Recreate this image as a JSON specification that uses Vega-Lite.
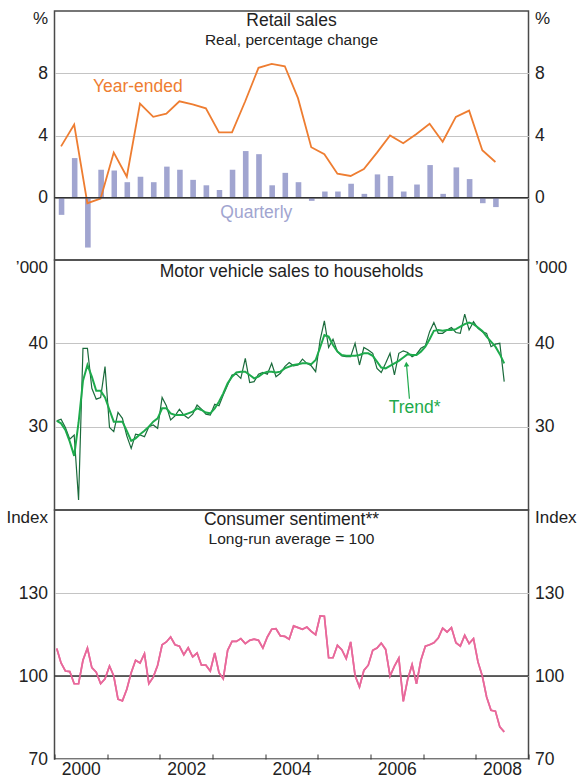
{
  "$schema": "https://vega.github.io/schema/vega-lite/v6.json",
  "padding": {"left": 4.5, "top": 8, "right": 0, "bottom": 0},
  "spacing": 0,
  "bounds": "flush",
  "config": {
    "font": "Liberation Sans",
    "view": {"stroke": "#4a4a4a", "strokeWidth": 1.5},
    "axis": {"labelFont": "Liberation Sans", "labelFontSize": 17.5, "labelColor": "#222222", "domain": false, "ticks": false, "grid": false, "titleFont": "Liberation Sans", "titleFontSize": 17, "titleFontWeight": "normal", "titleColor": "#222222"},
    "title": {"font": "Liberation Sans", "fontSize": 17.5, "fontWeight": "normal", "color": "#222222", "subtitleFont": "Liberation Sans", "subtitleFontSize": 15.5, "subtitleColor": "#222222", "anchor": "middle", "offset": -39, "subtitlePadding": 0}
  },
  "datasets": {
    "retail": [
      {"quarter": "2000-01", "quarterly": -1.1, "yearEnded": 3.3},
      {"quarter": "2000-04", "quarterly": 2.55, "yearEnded": 4.7},
      {"quarter": "2000-07", "quarterly": -3.2, "yearEnded": -0.35},
      {"quarter": "2000-10", "quarterly": 1.8, "yearEnded": -0.05},
      {"quarter": "2001-01", "quarterly": 1.75, "yearEnded": 2.9},
      {"quarter": "2001-04", "quarterly": 1.0, "yearEnded": 1.35},
      {"quarter": "2001-07", "quarterly": 1.35, "yearEnded": 6.05},
      {"quarter": "2001-10", "quarterly": 1.0, "yearEnded": 5.2},
      {"quarter": "2002-01", "quarterly": 2.0, "yearEnded": 5.4},
      {"quarter": "2002-04", "quarterly": 1.8, "yearEnded": 6.2},
      {"quarter": "2002-07", "quarterly": 1.15, "yearEnded": 6.0},
      {"quarter": "2002-10", "quarterly": 0.8, "yearEnded": 5.75},
      {"quarter": "2003-01", "quarterly": 0.5, "yearEnded": 4.2},
      {"quarter": "2003-04", "quarterly": 1.8, "yearEnded": 4.2},
      {"quarter": "2003-07", "quarterly": 3.0, "yearEnded": 6.2},
      {"quarter": "2003-10", "quarterly": 2.8, "yearEnded": 8.35},
      {"quarter": "2004-01", "quarterly": 0.8, "yearEnded": 8.6},
      {"quarter": "2004-04", "quarterly": 1.6, "yearEnded": 8.45},
      {"quarter": "2004-07", "quarterly": 1.0, "yearEnded": 6.4},
      {"quarter": "2004-10", "quarterly": -0.2, "yearEnded": 3.25},
      {"quarter": "2005-01", "quarterly": 0.4, "yearEnded": 2.8},
      {"quarter": "2005-04", "quarterly": 0.4, "yearEnded": 1.55},
      {"quarter": "2005-07", "quarterly": 0.9, "yearEnded": 1.4},
      {"quarter": "2005-10", "quarterly": 0.25, "yearEnded": 1.85},
      {"quarter": "2006-01", "quarterly": 1.5, "yearEnded": 2.9},
      {"quarter": "2006-04", "quarterly": 1.4, "yearEnded": 4.0},
      {"quarter": "2006-07", "quarterly": 0.4, "yearEnded": 3.5},
      {"quarter": "2006-10", "quarterly": 0.85, "yearEnded": 4.1},
      {"quarter": "2007-01", "quarterly": 2.1, "yearEnded": 4.75},
      {"quarter": "2007-04", "quarterly": 0.25, "yearEnded": 3.6},
      {"quarter": "2007-07", "quarterly": 1.95, "yearEnded": 5.2},
      {"quarter": "2007-10", "quarterly": 1.2, "yearEnded": 5.6},
      {"quarter": "2008-01", "quarterly": -0.35, "yearEnded": 3.05},
      {"quarter": "2008-04", "quarterly": -0.6, "yearEnded": 2.3}
    ],
    "motor": [
      {"month": "2000-01", "actual": 30.7, "trend": 30.7},
      {"month": "2000-02", "actual": 30.9, "trend": 30.4},
      {"month": "2000-03", "actual": 29.9, "trend": 29.6},
      {"month": "2000-04", "actual": 28.5, "trend": 28.2},
      {"month": "2000-05", "actual": 29.0, "trend": 26.5},
      {"month": "2000-06", "actual": 21.2, "trend": 30.5},
      {"month": "2000-07", "actual": 39.4, "trend": 35.5},
      {"month": "2000-08", "actual": 39.4, "trend": 37.4},
      {"month": "2000-09", "actual": 34.6, "trend": 36.0},
      {"month": "2000-10", "actual": 33.3, "trend": 34.3},
      {"month": "2000-11", "actual": 33.5, "trend": 34.3},
      {"month": "2000-12", "actual": 37.2, "trend": 33.5},
      {"month": "2001-01", "actual": 29.9, "trend": 32.0},
      {"month": "2001-02", "actual": 29.4, "trend": 30.6},
      {"month": "2001-03", "actual": 31.7, "trend": 30.6},
      {"month": "2001-04", "actual": 31.0, "trend": 30.6},
      {"month": "2001-05", "actual": 28.9, "trend": 29.5},
      {"month": "2001-06", "actual": 27.4, "trend": 28.3},
      {"month": "2001-07", "actual": 29.1, "trend": 28.6},
      {"month": "2001-08", "actual": 29.0, "trend": 29.1},
      {"month": "2001-09", "actual": 28.8, "trend": 29.5},
      {"month": "2001-10", "actual": 30.0, "trend": 30.0},
      {"month": "2001-11", "actual": 30.2, "trend": 30.6},
      {"month": "2001-12", "actual": 29.8, "trend": 31.0},
      {"month": "2002-01", "actual": 33.5, "trend": 32.2},
      {"month": "2002-02", "actual": 32.5, "trend": 32.2},
      {"month": "2002-03", "actual": 30.8, "trend": 31.6},
      {"month": "2002-04", "actual": 31.3, "trend": 31.4},
      {"month": "2002-05", "actual": 32.1, "trend": 31.4},
      {"month": "2002-06", "actual": 31.4, "trend": 31.4},
      {"month": "2002-07", "actual": 31.0, "trend": 31.6},
      {"month": "2002-08", "actual": 31.5, "trend": 31.8},
      {"month": "2002-09", "actual": 32.6, "trend": 32.2},
      {"month": "2002-10", "actual": 32.1, "trend": 32.0},
      {"month": "2002-11", "actual": 31.5, "trend": 31.7},
      {"month": "2002-12", "actual": 31.4, "trend": 31.6},
      {"month": "2003-01", "actual": 32.7, "trend": 32.2},
      {"month": "2003-02", "actual": 32.5, "trend": 33.0},
      {"month": "2003-03", "actual": 33.8, "trend": 34.0},
      {"month": "2003-04", "actual": 35.0, "trend": 35.2},
      {"month": "2003-05", "actual": 36.2, "trend": 36.0},
      {"month": "2003-06", "actual": 36.3, "trend": 36.5},
      {"month": "2003-07", "actual": 35.8, "trend": 36.6},
      {"month": "2003-08", "actual": 38.2, "trend": 36.6},
      {"month": "2003-09", "actual": 35.3, "trend": 36.2},
      {"month": "2003-10", "actual": 35.4, "trend": 35.8},
      {"month": "2003-11", "actual": 36.3, "trend": 36.0},
      {"month": "2003-12", "actual": 36.5, "trend": 36.4},
      {"month": "2004-01", "actual": 36.3, "trend": 36.6},
      {"month": "2004-02", "actual": 37.6, "trend": 36.6},
      {"month": "2004-03", "actual": 36.0, "trend": 36.5},
      {"month": "2004-04", "actual": 36.4, "trend": 36.6},
      {"month": "2004-05", "actual": 37.2, "trend": 37.0},
      {"month": "2004-06", "actual": 37.7, "trend": 37.2},
      {"month": "2004-07", "actual": 37.3, "trend": 37.4},
      {"month": "2004-08", "actual": 37.4, "trend": 37.5},
      {"month": "2004-09", "actual": 38.1, "trend": 37.6},
      {"month": "2004-10", "actual": 37.6, "trend": 37.6},
      {"month": "2004-11", "actual": 37.3, "trend": 37.5},
      {"month": "2004-12", "actual": 36.6, "trend": 38.0},
      {"month": "2005-01", "actual": 40.4, "trend": 39.5},
      {"month": "2005-02", "actual": 42.7, "trend": 41.0},
      {"month": "2005-03", "actual": 39.5, "trend": 40.8},
      {"month": "2005-04", "actual": 40.5, "trend": 39.8},
      {"month": "2005-05", "actual": 39.0, "trend": 39.0},
      {"month": "2005-06", "actual": 38.5, "trend": 38.6},
      {"month": "2005-07", "actual": 38.4, "trend": 38.5},
      {"month": "2005-08", "actual": 38.4, "trend": 38.5},
      {"month": "2005-09", "actual": 40.0, "trend": 38.5},
      {"month": "2005-10", "actual": 37.4, "trend": 38.6},
      {"month": "2005-11", "actual": 39.5, "trend": 38.8},
      {"month": "2005-12", "actual": 39.2, "trend": 38.8},
      {"month": "2006-01", "actual": 38.8, "trend": 38.5},
      {"month": "2006-02", "actual": 37.0, "trend": 37.8},
      {"month": "2006-03", "actual": 36.5, "trend": 37.1},
      {"month": "2006-04", "actual": 37.6, "trend": 37.0},
      {"month": "2006-05", "actual": 38.8, "trend": 37.3},
      {"month": "2006-06", "actual": 36.2, "trend": 37.6},
      {"month": "2006-07", "actual": 38.8, "trend": 37.9},
      {"month": "2006-08", "actual": 39.1, "trend": 38.3},
      {"month": "2006-09", "actual": 38.9, "trend": 38.7},
      {"month": "2006-10", "actual": 38.4, "trend": 38.6},
      {"month": "2006-11", "actual": 38.7, "trend": 38.6},
      {"month": "2006-12", "actual": 39.4, "trend": 39.0},
      {"month": "2007-01", "actual": 39.7, "trend": 39.6},
      {"month": "2007-02", "actual": 41.4, "trend": 40.5},
      {"month": "2007-03", "actual": 42.5, "trend": 41.5},
      {"month": "2007-04", "actual": 41.2, "trend": 41.6},
      {"month": "2007-05", "actual": 41.2, "trend": 41.5},
      {"month": "2007-06", "actual": 41.6, "trend": 41.6},
      {"month": "2007-07", "actual": 41.9, "trend": 41.6},
      {"month": "2007-08", "actual": 41.3, "trend": 41.7},
      {"month": "2007-09", "actual": 41.2, "trend": 42.0},
      {"month": "2007-10", "actual": 43.5, "trend": 42.3},
      {"month": "2007-11", "actual": 41.6, "trend": 42.5},
      {"month": "2007-12", "actual": 42.6, "trend": 42.3},
      {"month": "2008-01", "actual": 41.8, "trend": 41.9},
      {"month": "2008-02", "actual": 41.4, "trend": 41.5},
      {"month": "2008-03", "actual": 41.2, "trend": 40.8},
      {"month": "2008-04", "actual": 39.6, "trend": 40.2},
      {"month": "2008-05", "actual": 39.9, "trend": 39.6},
      {"month": "2008-06", "actual": 40.0, "trend": 38.7},
      {"month": "2008-07", "actual": 35.4, "trend": 37.6}
    ],
    "sentiment": [
      {"month": "2000-01", "index": 109.9}, {"month": "2000-02", "index": 104.7}, {"month": "2000-03", "index": 101.8}, {"month": "2000-04", "index": 101.6},
      {"month": "2000-05", "index": 97.2}, {"month": "2000-06", "index": 97.2}, {"month": "2000-07", "index": 105.7}, {"month": "2000-08", "index": 110.1},
      {"month": "2000-09", "index": 103.0}, {"month": "2000-10", "index": 101.4}, {"month": "2000-11", "index": 97.2}, {"month": "2000-12", "index": 99.0},
      {"month": "2001-01", "index": 103.6}, {"month": "2001-02", "index": 100.0}, {"month": "2001-03", "index": 91.6}, {"month": "2001-04", "index": 91.0},
      {"month": "2001-05", "index": 95.2}, {"month": "2001-06", "index": 101.2}, {"month": "2001-07", "index": 105.7}, {"month": "2001-08", "index": 104.7},
      {"month": "2001-09", "index": 108.1}, {"month": "2001-10", "index": 97.2}, {"month": "2001-11", "index": 99.6}, {"month": "2001-12", "index": 103.9},
      {"month": "2002-01", "index": 111.3}, {"month": "2002-02", "index": 112.3}, {"month": "2002-03", "index": 114.1}, {"month": "2002-04", "index": 111.3},
      {"month": "2002-05", "index": 110.8}, {"month": "2002-06", "index": 107.7}, {"month": "2002-07", "index": 110.2}, {"month": "2002-08", "index": 106.9},
      {"month": "2002-09", "index": 108.3}, {"month": "2002-10", "index": 103.9}, {"month": "2002-11", "index": 103.9}, {"month": "2002-12", "index": 101.8},
      {"month": "2003-01", "index": 108.3}, {"month": "2003-02", "index": 101.2}, {"month": "2003-03", "index": 99.0}, {"month": "2003-04", "index": 109.3},
      {"month": "2003-05", "index": 112.5}, {"month": "2003-06", "index": 112.5}, {"month": "2003-07", "index": 113.5}, {"month": "2003-08", "index": 111.7},
      {"month": "2003-09", "index": 112.9}, {"month": "2003-10", "index": 113.3}, {"month": "2003-11", "index": 112.9}, {"month": "2003-12", "index": 110.1},
      {"month": "2004-01", "index": 114.1}, {"month": "2004-02", "index": 116.9}, {"month": "2004-03", "index": 117.1}, {"month": "2004-04", "index": 114.5},
      {"month": "2004-05", "index": 114.3}, {"month": "2004-06", "index": 113.3}, {"month": "2004-07", "index": 118.1}, {"month": "2004-08", "index": 117.5},
      {"month": "2004-09", "index": 116.9}, {"month": "2004-10", "index": 117.7}, {"month": "2004-11", "index": 116.1}, {"month": "2004-12", "index": 114.9},
      {"month": "2005-01", "index": 121.7}, {"month": "2005-02", "index": 121.6}, {"month": "2005-03", "index": 106.6}, {"month": "2005-04", "index": 106.6},
      {"month": "2005-05", "index": 111.1}, {"month": "2005-06", "index": 109.5}, {"month": "2005-07", "index": 106.3}, {"month": "2005-08", "index": 112.3},
      {"month": "2005-09", "index": 100.2}, {"month": "2005-10", "index": 96.0}, {"month": "2005-11", "index": 102.0}, {"month": "2005-12", "index": 103.9},
      {"month": "2006-01", "index": 109.3}, {"month": "2006-02", "index": 110.1}, {"month": "2006-03", "index": 111.9}, {"month": "2006-04", "index": 109.6},
      {"month": "2006-05", "index": 100.0}, {"month": "2006-06", "index": 103.6}, {"month": "2006-07", "index": 106.5}, {"month": "2006-08", "index": 90.8},
      {"month": "2006-09", "index": 98.8}, {"month": "2006-10", "index": 104.1}, {"month": "2006-11", "index": 97.2}, {"month": "2006-12", "index": 105.7},
      {"month": "2007-01", "index": 110.8}, {"month": "2007-02", "index": 111.3}, {"month": "2007-03", "index": 112.0}, {"month": "2007-04", "index": 113.7},
      {"month": "2007-05", "index": 117.3}, {"month": "2007-06", "index": 115.9}, {"month": "2007-07", "index": 117.5}, {"month": "2007-08", "index": 112.0},
      {"month": "2007-09", "index": 110.8}, {"month": "2007-10", "index": 114.7}, {"month": "2007-11", "index": 111.7}, {"month": "2007-12", "index": 113.5},
      {"month": "2008-01", "index": 105.1}, {"month": "2008-02", "index": 100.0}, {"month": "2008-03", "index": 92.4}, {"month": "2008-04", "index": 87.6},
      {"month": "2008-05", "index": 87.3}, {"month": "2008-06", "index": 81.6}, {"month": "2008-07", "index": 79.8}
    ]
  },
  "vconcat": [
    {
      "width": 474,
      "height": 249,
      "title": {"text": "Retail sales", "subtitle": "Real, percentage change"},
      "resolve": {"axis": {"y": "independent"}},
      "layer": [
        {
          "data": {"name": "retail"},
          "mark": {"type": "bar", "color": "#A1A5D0", "width": {"band": 0.5}},
          "encoding": {
            "x": {"field": "quarter", "timeUnit": "utcyearquarter", "type": "temporal", "axis": null,
                  "scale": {"domain": [{"year": 2000, "month": 1, "date": 1, "utc": true}, {"year": 2009, "month": 1, "date": 1, "utc": true}]}},
            "y": {"field": "quarterly", "type": "quantitative", "scale": {"domain": [-4, 12], "nice": false},
                  "axis": {"orient": "left", "values": [0, 4, 8], "grid": true, "gridColor": "#c4c4c4", "gridWidth": 1, "labelPadding": 7,
                           "title": "%", "titleAngle": 0, "titleAlign": "right", "titleBaseline": "top", "titleX": -7, "titleY": -1}}
          }
        },
        {
          "data": {"name": "retail"},
          "mark": {"type": "line", "color": "#EE7D31", "strokeWidth": 1.8},
          "encoding": {
            "x": {"field": "quarter", "timeUnit": "utcyearquarter", "type": "temporal", "bandPosition": 0.5, "axis": null},
            "y": {"field": "yearEnded", "type": "quantitative",
                  "axis": {"orient": "right", "values": [0, 4, 8], "grid": false, "labelPadding": 6,
                           "title": "%", "titleAngle": 0, "titleAlign": "left", "titleBaseline": "top", "titleX": 6, "titleY": -1}}
          }
        },
        {
          "data": {"values": [{}]},
          "mark": {"type": "rule", "color": "#333333", "strokeWidth": 1.3},
          "encoding": {"y": {"datum": 0, "type": "quantitative", "axis": null}}
        },
        {
          "data": {"values": [{}]},
          "mark": {"type": "text", "fill": "#EE7D31", "fontSize": 17.5, "align": "center", "baseline": "middle", "text": "Year-ended"},
          "encoding": {
            "x": {"datum": {"year": 2001, "month": 8, "date": 1, "utc": true}, "type": "temporal", "axis": null},
            "y": {"datum": 7.1, "type": "quantitative", "axis": null}
          }
        },
        {
          "data": {"values": [{}]},
          "mark": {"type": "text", "fill": "#A1A5D0", "fontSize": 17.5, "align": "center", "baseline": "middle", "text": "Quarterly"},
          "encoding": {
            "x": {"datum": {"year": 2003, "month": 11, "date": 1, "utc": true}, "type": "temporal", "axis": null},
            "y": {"datum": -1.0, "type": "quantitative", "axis": null}
          }
        }
      ]
    },
    {
      "width": 474,
      "height": 250,
      "title": {"text": "Motor vehicle sales to households", "offset": -22.5},
      "resolve": {"axis": {"y": "independent"}},
      "layer": [
        {
          "data": {"name": "motor"},
          "mark": {"type": "line", "color": "#1B6B3C", "strokeWidth": 1.2},
          "encoding": {
            "x": {"field": "month", "timeUnit": "utcyearmonth", "type": "temporal", "bandPosition": 0.5, "axis": null,
                  "scale": {"domain": [{"year": 2000, "month": 1, "date": 1, "utc": true}, {"year": 2009, "month": 1, "date": 1, "utc": true}]}},
            "y": {"field": "actual", "type": "quantitative", "scale": {"domain": [20, 50], "nice": false},
                  "axis": {"orient": "left", "values": [30, 40], "grid": true, "gridColor": "#c4c4c4", "gridWidth": 1, "labelPadding": 7,
                           "title": "’000", "titleAngle": 0, "titleAlign": "right", "titleBaseline": "top", "titleX": -7, "titleY": -1}}
          }
        },
        {
          "data": {"name": "motor"},
          "mark": {"type": "line", "color": "#1EAA4C", "strokeWidth": 2},
          "encoding": {
            "x": {"field": "month", "timeUnit": "utcyearmonth", "type": "temporal", "bandPosition": 0.5, "axis": null},
            "y": {"field": "trend", "type": "quantitative",
                  "axis": {"orient": "right", "values": [30, 40], "grid": false, "labelPadding": 6,
                           "title": "’000", "titleAngle": 0, "titleAlign": "left", "titleBaseline": "top", "titleX": 6, "titleY": -1}}
          }
        },
        {
          "data": {"values": [{}]},
          "mark": {"type": "rule", "color": "#1EAA4C", "strokeWidth": 1.2},
          "encoding": {
            "x": {"datum": {"year": 2006, "month": 9, "date": 28, "utc": true}, "type": "temporal", "axis": null},
            "y": {"datum": 33.35, "type": "quantitative", "axis": null},
            "x2": {"datum": {"year": 2006, "month": 9, "date": 8, "utc": true}},
            "y2": {"datum": 37.4}
          }
        },
        {
          "data": {"values": [{}]},
          "mark": {"type": "point", "shape": "triangle-up", "filled": true, "color": "#1EAA4C", "size": 30, "opacity": 1, "angle": -5},
          "encoding": {
            "x": {"datum": {"year": 2006, "month": 9, "date": 7, "utc": true}, "type": "temporal", "axis": null},
            "y": {"datum": 37.5, "type": "quantitative", "axis": null}
          }
        },
        {
          "data": {"values": [{}]},
          "mark": {"type": "text", "fill": "#1EAA4C", "fontSize": 17.5, "align": "center", "baseline": "middle", "text": "Trend*"},
          "encoding": {
            "x": {"datum": {"year": 2006, "month": 11, "date": 3, "utc": true}, "type": "temporal", "axis": null},
            "y": {"datum": 32.2, "type": "quantitative", "axis": null}
          }
        }
      ]
    },
    {
      "width": 474,
      "height": 249,
      "title": {"text": "Consumer sentiment**", "subtitle": "Long-run average = 100"},
      "resolve": {"axis": {"y": "independent"}},
      "layer": [
        {
          "data": {"name": "sentiment"},
          "mark": {"type": "line", "color": "#E8699B", "strokeWidth": 1.7},
          "encoding": {
            "x": {"field": "month", "timeUnit": "utcyearmonth", "type": "temporal", "bandPosition": 0.5,
                  "scale": {"domain": [{"year": 2000, "month": 1, "date": 1, "utc": true}, {"year": 2009, "month": 1, "date": 1, "utc": true}]},
                  "axis": {"orient": "bottom", "tickCount": {"interval": "year", "step": 1}, "ticks": true, "tickSize": -5, "tickColor": "#333333", "tickWidth": 1,
                           "labelExpr": "utcyear(datum.value) % 2 === 0 ? utcFormat(datum.value, '%Y') : ''",
                           "labelOffset": 26.33, "labelFlush": false, "labelOverlap": false, "labelPadding": 6, "title": null, "grid": false}},
            "y": {"field": "index", "type": "quantitative", "scale": {"domain": [70, 160], "nice": false},
                  "axis": {"orient": "left", "values": [70, 100, 130], "grid": true, "gridColor": "#c4c4c4", "gridWidth": 1, "labelPadding": 7,
                           "title": "Index", "titleAngle": 0, "titleAlign": "right", "titleBaseline": "top", "titleX": -7, "titleY": -1}}
          }
        },
        {
          "data": {"values": [{}]},
          "mark": {"type": "rule", "color": "#333333", "strokeWidth": 1.3},
          "encoding": {"y": {"datum": 100, "type": "quantitative",
                  "axis": {"orient": "right", "values": [70, 100, 130], "grid": false, "labelPadding": 6,
                           "title": "Index", "titleAngle": 0, "titleAlign": "left", "titleBaseline": "top", "titleX": 6, "titleY": -1}}}
        },
        {
          "data": {"name": "sentiment"},
          "mark": {"type": "line", "color": "#E8699B", "strokeWidth": 1.7},
          "encoding": {
            "x": {"field": "month", "timeUnit": "utcyearmonth", "type": "temporal", "bandPosition": 0.5},
            "y": {"field": "index", "type": "quantitative", "axis": null}
          }
        }
      ]
    }
  ]
}
